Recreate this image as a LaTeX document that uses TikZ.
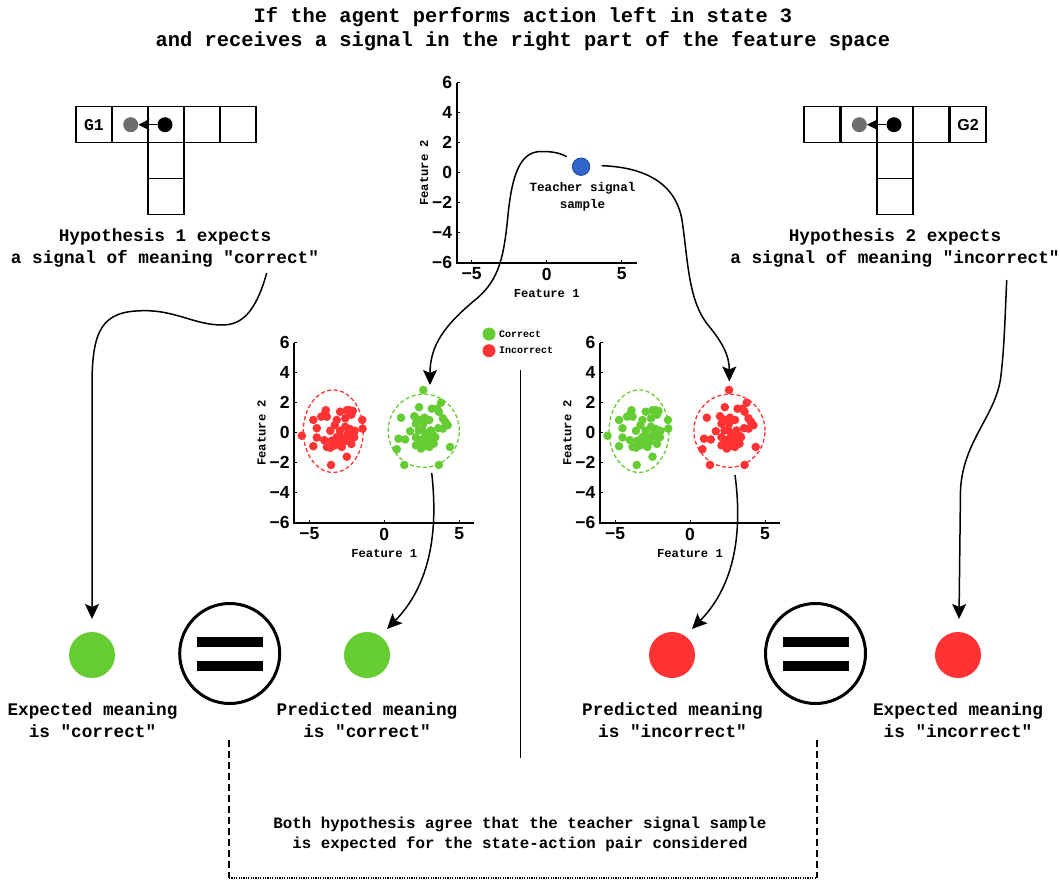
\documentclass[tikz,border=0pt]{standalone}
\usepackage{fontspec}
\setmainfont{Liberation Serif}
\setmonofont{Liberation Mono}
\setsansfont{Liberation Sans}
\usetikzlibrary{arrows.meta}
\definecolor{cgreen}{RGB}{102,204,51}
\definecolor{cred}{RGB}{255,51,51}
\definecolor{cblue}{RGB}{51,102,204}
\definecolor{cbluedk}{RGB}{35,70,150}
\definecolor{cgrey}{RGB}{110,110,110}
\tikzset{
  mtxt/.style={font={\ttfamily\bfseries\fontsize{17.7}{22}\selectfont}, align=center, inner sep=0pt},
  ttl/.style={font={\ttfamily\bfseries\fontsize{20.4}{24}\selectfont}, align=center, inner sep=0pt},
  stxt/.style={font={\ttfamily\bfseries\fontsize{12.6}{17}\selectfont}, align=center, inner sep=0pt},
  btxt/.style={font={\ttfamily\bfseries\fontsize{15.8}{19.5}\selectfont}, align=center, inner sep=0pt},
  legtxt/.style={font={\ttfamily\bfseries\fontsize{10}{12}\selectfont}, anchor=west, inner sep=0pt},
  ticklab/.style={font={\sffamily\bfseries\fontsize{17.5}{17.5}\selectfont}, inner sep=0pt},
  axlab/.style={font={\ttfamily\bfseries\fontsize{12.2}{14}\selectfont}, inner sep=0pt},
  axisline/.style={line width=1.8pt},
  cell/.style={line width=1.8pt},
  conn/.style={line width=1.5pt, -{Stealth[length=15pt,width=14pt,inset=3pt]}},
  dotnode/.style={circle, inner sep=0pt, minimum size=15pt},
  bigdot/.style={circle, inner sep=0pt, minimum size=46pt},
  eqcirc/.style={circle, draw, line width=3pt, minimum size=100pt, inner sep=0pt},
  ell/.style={line width=1.3pt, dash pattern=on 4pt off 2.5pt},
  boxline/.style={line width=1.5pt, dash pattern=on 7pt off 4pt},
}
\newcommand\featureaxes[1]{%
  \draw[axisline] (-6,6) -- (-6,-6) -- (6,-6);
  \foreach \v/\t [count=\k] in {-6/−6,-4/−4,-2/−2,0/0,2/2,4/4,6/6} {
    \draw[line width=1pt] (-6,\v) -- ++(3pt,0);
    \node[ticklab,anchor=east] (#1y\k) at (-6.3,\v) {\t};
  }
  \foreach \v/\t [count=\k] in {-5/−5,0/0,5/5} {
    \draw[line width=1pt] (\v,-6) -- ++(0,3pt);
    \node[ticklab,anchor=north] (#1x\k) at (\v,-6.33) {\t};
  }
  \node[axlab] (#1f1) at (0,-8.07) {Feature 1};
  \node[axlab,rotate=90] (#1f2) at (-8.18,0) {Feature 2};
}
\def\clusterL{-5.5/-0.2,-3.55/-2.15,-2.5/-1.6,-1.47/0.85,-1.45/0.27,-3.9/1.5,-4.73/0.85,-4.5/0.3,-4.73/-0.9,-4.5/-0.32,-3.83/-0.95,-2.5/1.5,-2.95/1.4,-2.3/1.5,-2.2/-0.3,-2.2/-0.75,-2.95/-0.53,-3.5/-0.53,-3.6/0.13,-2.95/0.13,-2.3/0.25,-1.97/0.13,-3.17/0.85,-4.2/1.07,-3.83/1.07,-2.84/-0.95,-3.3/-0.84,-2.6/0.96,-2.6/0.4,-3.17/-0.3,-3.0/-0.2,-2.7/-0.6,-2.4/0.0,-3.3/0.5,-2.2/1.2,-2.0/-0.3,-2.6/-0.3,-3.6/-1.0,-4.0/-0.5,-2.1/1.45,-3.95/1.3}
\def\clusterR{2.6/2.85,3.78/2.0,3.64/-2.15,1.33/-2.15,4.38/-0.95,0.83/-1.1,1.12/1.0,0.94/-0.4,1.39/-0.45,1.72/0.1,2.32/1.7,3.17/1.6,3.64/1.4,2.0/1.1,2.1/0.6,2.67/1.0,3.0/0.85,3.9/0.96,4.23/0.5,3.9/0.27,2.56/0.15,2.1/-0.3,2.56/-0.5,3.0/-0.5,3.3/-0.73,2.56/-0.95,2.1/-0.84,3.0/-0.95,3.4/-0.3,2.3/0.15,2.8/-0.07,3.1/0.15,2.45/-1.06,2.8/-0.73,2.7/-0.3,3.1/-0.6,2.9/-0.9,2.4/-0.5,3.3/-0.2,2.6/0.6,3.6/0.3,4.05/0.75,2.2/0.9,3.5/1.6}
\begin{document}
\begin{tikzpicture}[x=1pt,y=-1pt]
\useasboundingbox (0,0) rectangle (1060,880);

% title
\node[ttl] (title) at (523,29) {If the agent performs action left in state 3\\and receives a signal in the right part of the feature space};

% left grid world
\foreach \xx in {76,112,148,184,220} \draw[cell] (\xx,106.5) rectangle ++(36,36);
\draw[cell] (148,142.5) rectangle ++(36,36);
\draw[cell] (148,178.5) rectangle ++(36,36);
\node[font={\ttfamily\bfseries\fontsize{16.5}{16.5}\selectfont}, inner sep=0pt] (g1lab) at (94,124.7) {G1};
\node[dotnode, fill=cgrey] (gd1) at (130.7,124.7) {};
\node[dotnode, fill=black] (bd1) at (165,124.7) {};
\draw[line width=1.2pt, -{Stealth[length=11pt,width=11pt,inset=2.5pt]}] (bd1.west) -- (gd1.east);

% right grid world
\foreach \xx in {804,841,877,913,950} \draw[cell] (\xx,106.5) rectangle ++(36,36);
\draw[cell] (877,142.5) rectangle ++(36,36);
\draw[cell] (877,178.5) rectangle ++(36,36);
\node[font={\sffamily\bfseries\fontsize{16}{16}\selectfont}, inner sep=0pt] (g2lab) at (968,124.7) {G2};
\node[dotnode, fill=cgrey] (gd2) at (859.3,124.7) {};
\node[dotnode, fill=black] (bd2) at (894,124.7) {};
\draw[line width=1.2pt, -{Stealth[length=11pt,width=11pt,inset=2.5pt]}] (bd2.west) -- (gd2.east);

% hypotheses
\node[mtxt] (h1) at (165,248) {Hypothesis 1 expects\\a signal of meaning "correct"};
\node[mtxt] (h2) at (895,248) {Hypothesis 2 expects\\a signal of meaning "incorrect"};

% top plot
\begin{scope}[shift={(546.7,172.7)}, x=15pt, y=15pt]
  \featureaxes{tp}
  \node[circle, fill=cblue, draw=cbluedk, line width=0.8pt, minimum size=17.5pt, inner sep=0pt] (sig) at (2.29,0.4) {};
\end{scope}
\node[stxt] (sigtxt) at (582.5,197) {Teacher signal\\sample};

% left scatter
\begin{scope}[shift={(384.3,432.7)}, x=15pt, y=15pt]
  \featureaxes{lp}
  \foreach \a/\b in \clusterL \fill[cred] (\a,\b) circle (4.3pt);
  \foreach \a/\b in \clusterR \fill[cgreen] (\a,\b) circle (4.3pt);
  \draw[ell, draw=cred] (-3.4,0.1) ellipse [x radius=2, y radius=2.75];
  \draw[ell, draw=cgreen] (2.63,0.13) ellipse [x radius=2.37, y radius=2.44];
\end{scope}

% right scatter
\begin{scope}[shift={(690,432.7)}, x=15pt, y=15pt]
  \featureaxes{rp}
  \foreach \a/\b in \clusterL \fill[cgreen] (\a,\b) circle (4.3pt);
  \foreach \a/\b in \clusterR \fill[cred] (\a,\b) circle (4.3pt);
  \draw[ell, draw=cgreen] (-3.4,0.1) ellipse [x radius=2, y radius=2.75];
  \draw[ell, draw=cred] (2.63,0.13) ellipse [x radius=2.37, y radius=2.44];
\end{scope}

% legend
\fill[cgreen] (489,334) circle (6.5pt);
\fill[cred] (489,350.7) circle (6.5pt);
\node[legtxt] (lcor) at (499,334) {Correct};
\node[legtxt] (linc) at (499,350.7) {Incorrect};

% separator
\coordinate (sepT) at (520,370);
\coordinate (sepB) at (520,758);
\draw[line width=0.8pt] (sepT) -- (sepB);

% bottom circles
\node[bigdot, fill=cgreen] (ec) at (92,655) {};
\node[bigdot, fill=cgreen] (pc) at (367,655) {};
\node[bigdot, fill=cred] (pi) at (672,655) {};
\node[bigdot, fill=cred] (ei) at (958,655) {};

% equal signs
\node[eqcirc] (eq1) at (229.7,653.5) {};
\node[eqcirc] (eq2) at (815.5,653.5) {};
\foreach \cx in {229.7,815.5} {
  \fill (\cx-33,636.7) rectangle (\cx+33,646.7);
  \fill (\cx-33,660.7) rectangle (\cx+33,671.3);
}

% bottom labels
\node[mtxt] (et) at (92.5,720) {Expected meaning\\is "correct"};
\node[mtxt] (pt) at (367,720) {Predicted meaning\\is "correct"};
\node[mtxt] (pit) at (672.5,720) {Predicted meaning\\is "incorrect"};
\node[mtxt] (eit) at (958,720) {Expected meaning\\is "incorrect"};

% dashed box
\coordinate (bxTL) at (229,740);
\coordinate (bxBL) at (229,878);
\coordinate (bxTR) at (817,740);
\coordinate (bxBR) at (817,878);
\draw[boxline] (bxTL) -- (bxBL);
\draw[boxline] (bxTR) -- (bxBR);
\draw[line width=1.6pt, dash pattern=on 1.2pt off 1.2pt] (bxBL) -- (bxBR);
\node[btxt] (both) at (520,834.5) {Both hypothesis agree that the teacher signal sample\\is expected for the state-action pair considered};

% connectors
\coordinate (c1s) at (266.7,273);
\coordinate (c1e) at (92,619);
\draw[conn] (c1s) .. controls (255,315) and (240,325) .. (222,325)
   .. controls (195,325) and (175,310) .. (143,310.7)
   .. controls (102,311) and (92,330) .. (92,385) -- (c1e);

\coordinate (c2s) at (1006.7,280);
\coordinate (c2e) at (959,619);
\draw[conn] (c2s) .. controls (1005,320) and (1004,350) .. (1001,375)
   .. controls (997,415) and (963,440) .. (960.5,490) -- (c2e);

\coordinate (c3s) at (566.7,156.7);
\coordinate (c3e) at (430,385);
\draw[conn] (c3s) .. controls (558,152) and (550,151.5) .. (541,151.5)
   .. controls (520,151.5) and (512,175) .. (508,215)
   .. controls (504,255) and (500,280) .. (475,300)
   .. controls (445,325) and (430,345) .. (c3e);

\coordinate (c4s) at (601.7,165.7);
\coordinate (c4e) at (729.3,381.5);
\draw[conn] (c4s) .. controls (640,167) and (675,180) .. (682,220)
   .. controls (688,260) and (688,300) .. (708,325)
   .. controls (722,342) and (729.3,355) .. (c4e);

\coordinate (c5s) at (431.7,473);
\coordinate (c5e) at (387,629);
\draw[conn] (c5s) .. controls (437,520) and (435,580) .. (c5e);

\coordinate (c6s) at (735,475);
\coordinate (c6e) at (692,629);
\draw[conn] (c6s) .. controls (741,520) and (740,580) .. (c6e);
\end{tikzpicture}
\end{document}
